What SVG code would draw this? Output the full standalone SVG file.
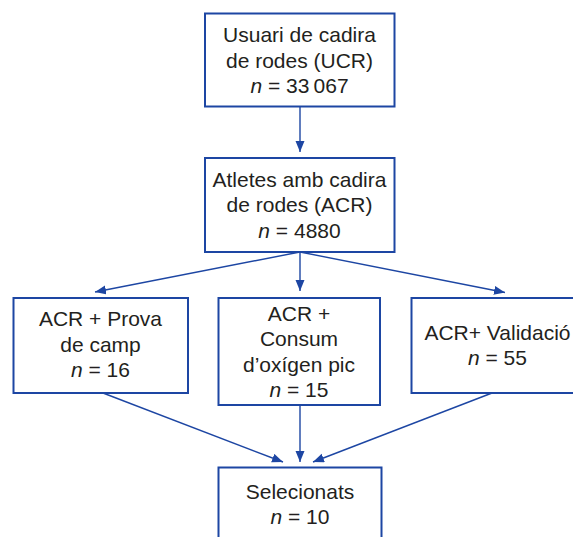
<svg xmlns="http://www.w3.org/2000/svg" width="573" height="537" viewBox="0 0 573 537">
<style>
.box{fill:#fff;stroke:#1d46a3;stroke-width:2}
.t{font-family:"Liberation Sans",Arial,sans-serif;font-size:21px;fill:#231f20;text-anchor:middle}
.i{font-style:italic}
.c{fill:none;stroke:#1d46a3;stroke-width:1.4}
</style>
<defs>
<marker id="ah" markerUnits="userSpaceOnUse" markerWidth="12" markerHeight="10" refX="11" refY="4.5" orient="auto">
<path d="M0,0 L11,4.5 L0,9 z" fill="#1d46a3"/>
</marker>
</defs>
<rect width="573" height="537" fill="#fff"/>
<g id="connectors">
<line class="c" x1="300" y1="107" x2="300" y2="152" marker-end="url(#ah)"/>
<line class="c" x1="300" y1="252" x2="95" y2="292" marker-end="url(#ah)"/>
<line class="c" x1="300" y1="252" x2="300" y2="291" marker-end="url(#ah)"/>
<line class="c" x1="300" y1="252" x2="505" y2="292.5" marker-end="url(#ah)"/>
<line class="c" x1="103" y1="393" x2="283" y2="462" marker-end="url(#ah)"/>
<line class="c" x1="300" y1="405" x2="300" y2="462" marker-end="url(#ah)"/>
<line class="c" x1="492" y1="393" x2="313" y2="462" marker-end="url(#ah)"/>
</g>
<g id="ucr">
<rect class="box" x="205" y="13.5" width="189.5" height="93"/>
<text class="t" x="299.5" y="41.5">Usuari de cadira</text>
<text class="t" x="299.5" y="67.5">de rodes (UCR)</text>
<text class="t" x="299.5" y="93"><tspan class="i">n</tspan> = 33&#8201;067</text>
</g>
<g id="acr">
<rect class="box" x="205" y="158" width="189.5" height="94"/>
<text class="t" x="299.5" y="186.5">Atletes amb cadira</text>
<text class="t" x="299.5" y="212">de rodes (ACR)</text>
<text class="t" x="299.5" y="238"><tspan class="i">n</tspan> = 4880</text>
</g>
<g id="prova">
<rect class="box" x="13.5" y="298" width="174.5" height="95"/>
<text class="t" x="100.5" y="326">ACR + Prova</text>
<text class="t" x="100.5" y="351.5">de camp</text>
<text class="t" x="100.5" y="377"><tspan class="i">n</tspan> = 16</text>
</g>
<g id="consum">
<rect class="box" x="218.5" y="298" width="161.5" height="107"/>
<text class="t" x="299" y="320.5">ACR +</text>
<text class="t" x="299" y="346">Consum</text>
<text class="t" x="299" y="371.5">d’oxígen pic</text>
<text class="t" x="299" y="397"><tspan class="i">n</tspan> = 15</text>
</g>
<g id="validacio">
<rect class="box" x="411.5" y="298" width="172" height="95"/>
<text class="t" x="497.5" y="340">ACR+ Validació</text>
<text class="t" x="497.5" y="364.5"><tspan class="i">n</tspan> = 55</text>
</g>
<g id="selecionats">
<rect class="box" x="218.5" y="467.5" width="163" height="90"/>
<text class="t" x="300" y="498.5">Selecionats</text>
<text class="t" x="300" y="523.5"><tspan class="i">n</tspan> = 10</text>
</g>
</svg>
